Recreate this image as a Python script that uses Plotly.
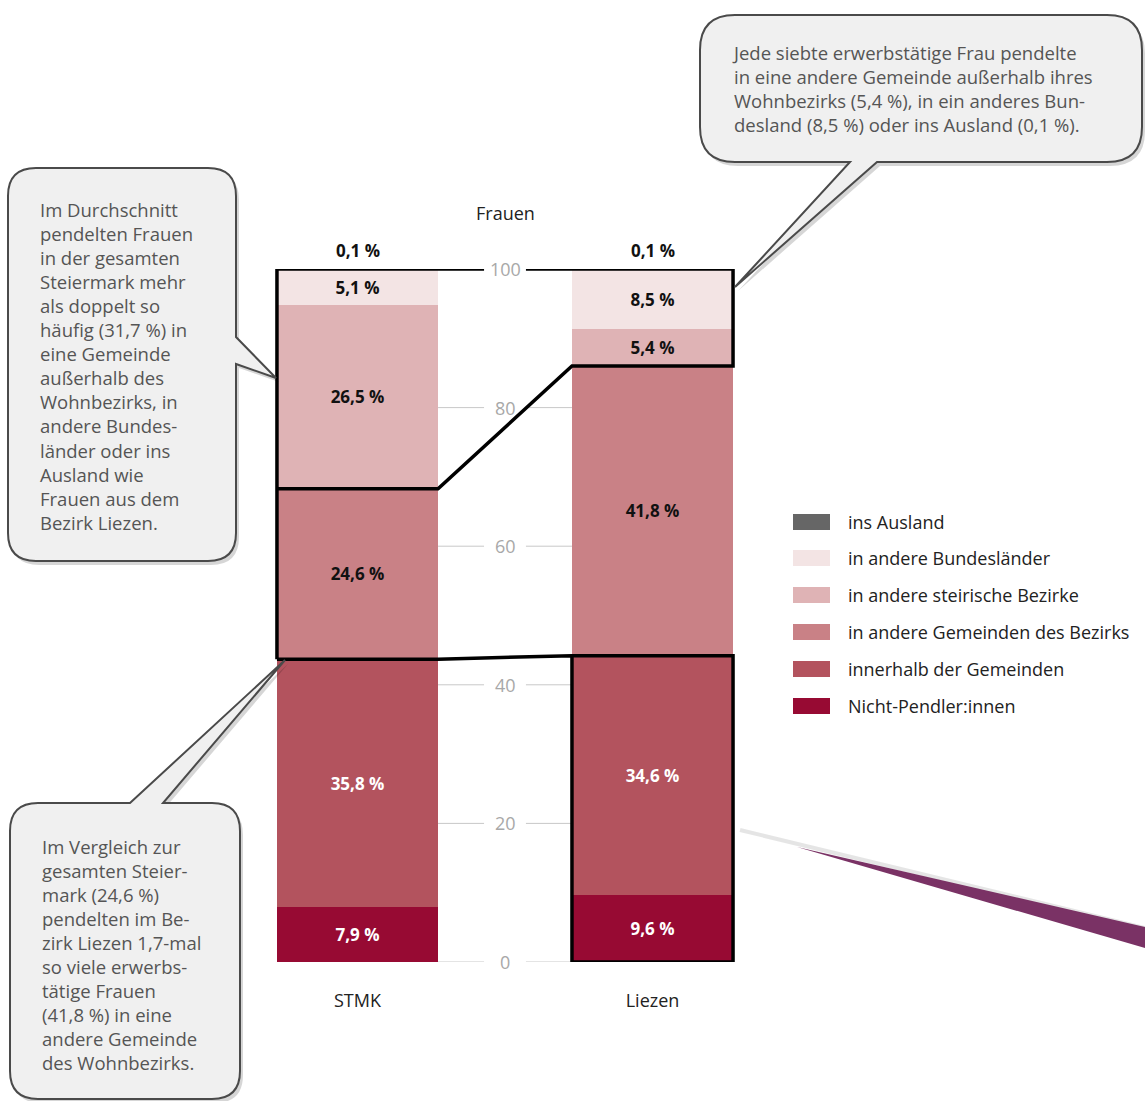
import plotly.graph_objects as go

# ---------------- data ----------------
categories = ["STMK", "Liezen"]
series_names = [
    "Nicht-Pendler:innen",
    "innerhalb der Gemeinden",
    "in andere Gemeinden des Bezirks",
    "in andere steirische Bezirke",
    "in andere Bundesländer",
    "ins Ausland",
]
nicht_pendler = [7.9, 9.6]
innerhalb = [35.8, 34.6]
andere_gemeinden = [24.6, 41.8]
steirische_bezirke = [26.5, 5.4]
bundeslaender = [5.1, 8.5]
ausland = [0.1, 0.1]
y_ticks = [0, 20, 40, 60, 80, 100]
title_text = "Frauen"

callout_left = ["Im Durchschnitt", "pendelten Frauen", "in der gesamten", "Steiermark mehr",
                "als doppelt so", "häufig (31,7 %) in", "eine Gemeinde", "außerhalb des",
                "Wohnbezirks, in", "andere Bundes-", "länder oder ins", "Ausland wie",
                "Frauen aus dem", "Bezirk Liezen."]
callout_top = ["Jede siebte erwerbstätige Frau pendelte", "in eine andere Gemeinde außerhalb ihres",
               "Wohnbezirks (5,4 %), in ein anderes Bun-", "desland (8,5 %) oder ins Ausland (0,1 %)."]
callout_bottom = ["Im Vergleich zur", "gesamten Steier-", "mark (24,6 %)", "pendelten im Be-",
                  "zirk Liezen 1,7-mal", "so viele erwerbs-", "tätige Frauen", "(41,8 %) in eine",
                  "andere Gemeinde", "des Wohnbezirks."]

series_values = [nicht_pendler, innerhalb, andere_gemeinden, steirische_bezirke, bundeslaender, ausland]

# ---------------- styles ----------------
colors = ["#970A33", "#B3535E", "#C98186", "#DFB3B5", "#F3E4E4", "#666666"]
text_colors = ["white", "white", "#111111", "#111111", "#111111", "#111111"]
FONT = "Open Sans"
W, H = 1145, 1101
L, R, T, B = 210, 800, 269, 962  # plot area in pixels
BAR_W = 0.546
HW = BAR_W / 2
GAP = 0.071  # half gap around the middle tick labels (category units)
LINE_H = 24


def fmt(v):
    return f"{v:.1f}".replace(".", ",") + " %"


def px(x):
    return (x - L) / (R - L)


def py(y):
    return (B - y) / (B - T)


fig = go.Figure()
for i, (name, vals) in enumerate(zip(series_names, series_values)):
    show_text = name != "ins Ausland"
    fig.add_trace(go.Bar(
        x=categories, y=vals, name=name, width=BAR_W,
        marker=dict(color=colors[i], line=dict(width=0)),
        text=[fmt(v) for v in vals] if show_text else None,
        textposition="inside" if show_text else "none",
        insidetextanchor="middle", textangle=0, constraintext="none",
        textfont=dict(family=FONT, size=17, color=text_colors[i], weight="bold"),
        showlegend=False, hoverinfo="skip",
    ))

# cumulative sums
cum = []
for j in range(len(categories)):
    s, c = 0, []
    for vals in series_values:
        s += vals[j]
        c.append(s)
    cum.append(c)

shapes = []
annotations = []

# gridlines between the bars (with a gap for the label) + tick labels
for t in y_ticks:
    if t != y_ticks[-1]:
        for a, b in ((0 + HW, 0.5 - GAP), (0.5 + GAP, 1 - HW)):
            shapes.append(dict(type="line", xref="x", yref="y", x0=a, x1=b, y0=t, y1=t,
                               line=dict(color="#C8C8C8", width=1), layer="below"))
    annotations.append(dict(x=0.5, y=t, xref="x", yref="y", text=str(t), showarrow=False,
                            font=dict(family=FONT, size=18, color="#A8A8A8"),
                            xanchor="center", yanchor="middle"))

# black outlines
s_c, l_c = cum[0], cum[1]
sL, sR, lL, lR = 0 - HW, 0 + HW, 1 - HW, 1 + HW
top = s_c[-1]
lw = 3.5
paths = [
    f"M{sL},{s_c[1]} L{sL},{top} L{0.5 - GAP},{top}",
    f"M{0.5 + GAP},{top} L{lR},{top} L{lR},{l_c[2]} L{lL},{l_c[2]} L{sR},{s_c[2]} L{sL},{s_c[2]}",
    f"M{sL},{s_c[1]} L{sR},{s_c[1]} L{lL},{l_c[1]} L{lR},{l_c[1]} L{lR},0 L{lL},0 L{lL},{l_c[1]}",
]
for p in paths:
    shapes.append(dict(type="path", xref="x", yref="y", path=p,
                       line=dict(color="black", width=lw), layer="above"))

# 0,1 % labels above the bars
for j, cat in enumerate(categories):
    annotations.append(dict(x=cat, y=cum[j][-1], xref="x", yref="y", text=fmt(ausland[j]),
                            showarrow=False, yshift=19,
                            font=dict(family=FONT, size=17, color="#111111", weight="bold")))

# title
annotations.append(dict(x=px(505), y=py(213), xref="paper", yref="paper", text=title_text,
                        showarrow=False, xanchor="center", yanchor="middle",
                        font=dict(family=FONT, size=18, color="#222222")))

# legend (manual)
leg_rows = [522, 558, 595, 632, 669, 706]
for k, idx in enumerate(reversed(range(len(series_names)))):
    yc = leg_rows[k]
    shapes.append(dict(type="rect", xref="paper", yref="paper", x0=px(793), x1=px(830),
                       y0=py(yc - 8), y1=py(yc + 8), fillcolor=colors[idx], line=dict(width=0)))
    annotations.append(dict(x=px(846), y=py(yc), xref="paper", yref="paper", text=series_names[idx],
                            showarrow=False, xanchor="left", yanchor="middle",
                            font=dict(family=FONT, size=18, color="#222222")))


# speech bubbles
def bubble(x0, y0, x1, y1, r, side, tail):
    cmds = [("M", (x0 + r, y0))]
    if side == "top":
        cmds += [("L", tail[0]), ("L", tail[1]), ("L", tail[2])]
    cmds += [("L", (x1 - r, y0)), ("Q", (x1, y0), (x1, y0 + r))]
    if side == "right":
        cmds += [("L", tail[0]), ("L", tail[1]), ("L", tail[2])]
    cmds += [("L", (x1, y1 - r)), ("Q", (x1, y1), (x1 - r, y1))]
    if side == "bottom":
        cmds += [("L", tail[0]), ("L", tail[1]), ("L", tail[2])]
    cmds += [("L", (x0 + r, y1)), ("Q", (x0, y1), (x0, y1 - r)),
             ("L", (x0, y0 + r)), ("Q", (x0, y0), (x0 + r, y0))]
    out = []
    for c in cmds:
        coords = " ".join(f"{px(p[0]):.5f},{py(p[1]):.5f}" for p in c[1:])
        out.append(f"{c[0]}{coords}")
    return " ".join(out) + " Z"


def shift(pt, dx, dy):
    return (pt[0] + dx, pt[1] + dy)


bubbles = [
    ((8, 168, 236, 561, 28, "right", [(236, 337), (276, 378), (236, 364)]),
     callout_left, 38, 210),
    ((700, 15, 1142, 162, 35, "bottom", [(877, 162), (735, 287), (850, 162)]),
     callout_top, 730, 53),
    ((10, 803, 240, 1099, 28, "top", [(130, 803), (285, 660), (163, 803)]),
     callout_bottom, 40, 846),
]
for geo, lines, tx, ty in bubbles:
    x0, y0, x1, y1, r, side, tail = geo
    sh = bubble(x0 + 3, y0 + 4, x1 + 3, y1 + 4, r, side, [shift(p, 3, 4) for p in tail])
    shapes.append(dict(type="path", xref="paper", yref="paper", path=sh,
                       fillcolor="rgba(0,0,0,0.16)", line=dict(width=0), layer="above"))
    shapes.append(dict(type="path", xref="paper", yref="paper", path=bubble(x0, y0, x1, y1, r, side, tail),
                       fillcolor="#F0F0F0", line=dict(color="#4A4A4A", width=2), layer="above"))
    yc = ty + LINE_H * (len(lines) - 1) / 2
    annotations.append(dict(x=px(tx), y=py(yc), xref="paper", yref="paper", text="<br>".join(lines),
                            showarrow=False, xanchor="left", yanchor="middle", align="left",
                            font=dict(family=FONT, size=18.5, color="#555555")))

# purple wedge (arrow from neighbouring graphic)
shapes.append(dict(type="line", xref="paper", yref="paper", x0=px(740), y0=py(830), x1=px(1145), y1=py(928),
                   line=dict(color="rgba(0,0,0,0.10)", width=4), layer="above"))
shapes.append(dict(type="path", xref="paper", yref="paper",
                   path=f"M{px(797)},{py(847)} L{px(1145)},{py(927)} L{px(1145)},{py(948)} Z",
                   fillcolor="#7A3265", line=dict(width=0), layer="above"))

fig.update_layout(
    width=W, height=H, barmode="stack",
    margin=dict(l=L, r=W - R, t=T, b=H - B, pad=0),
    paper_bgcolor="white", plot_bgcolor="white",
    showlegend=False,
    font=dict(family=FONT, color="#222222"),
    xaxis=dict(type="category", range=[-0.5, 1.5], showgrid=False, zeroline=False, showline=False,
               ticks="", tickfont=dict(family=FONT, size=18, color="#222222"), ticklabelstandoff=26),
    yaxis=dict(range=[0, 100], visible=False, fixedrange=True),
    shapes=shapes, annotations=annotations,
    uniformtext=dict(mode=False),
)

fig.write_html("out.html", config={"displayModeBar": False},
               post_script="document.body.style.margin='0px';document.body.style.overflow='hidden';")
